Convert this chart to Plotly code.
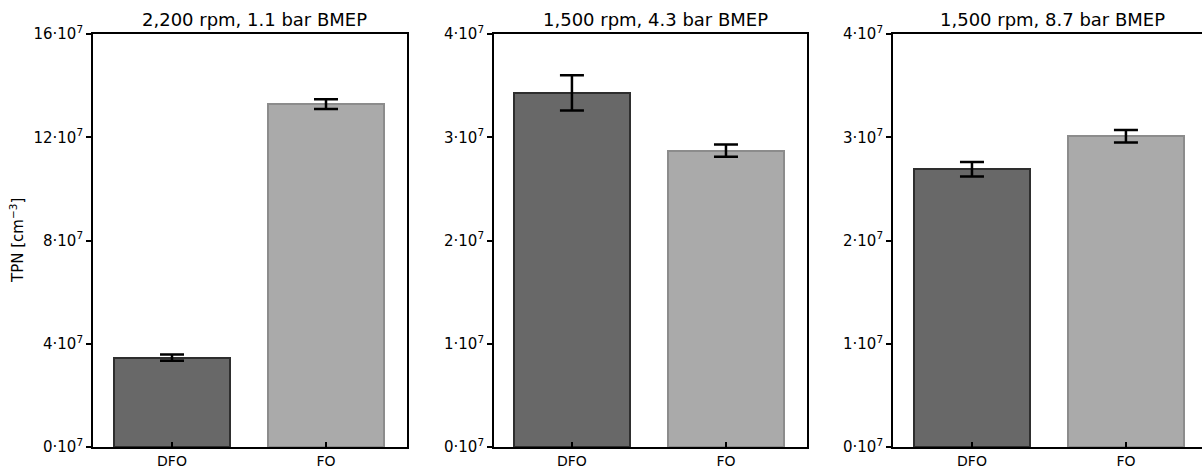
import plotly.graph_objects as go

categories = ["DFO", "FO"]
titles = ["2,200 rpm, 1.1 bar BMEP", "1,500 rpm, 4.3 bar BMEP", "1,500 rpm, 8.7 bar BMEP"]
values_p1 = [3.46e7, 13.28e7]
errors_p1 = [0.12e7, 0.19e7]
values_p2 = [3.43e7, 2.87e7]
errors_p2 = [0.17e7, 0.06e7]
values_p3 = [2.69e7, 3.01e7]
errors_p3 = [0.07e7, 0.06e7]
ytick_vals_p1 = [0, 4e7, 8e7, 12e7, 16e7]
ytick_text_p1 = ["0·10<sup>7</sup>", "4·10<sup>7</sup>", "8·10<sup>7</sup>", "12·10<sup>7</sup>", "16·10<sup>7</sup>"]
ytick_vals_p23 = [0, 1e7, 2e7, 3e7, 4e7]
ytick_text_p23 = ["0·10<sup>7</sup>", "1·10<sup>7</sup>", "2·10<sup>7</sup>", "3·10<sup>7</sup>", "4·10<sup>7</sup>"]
y_title = "TPN [cm<sup>−3</sup>]"

W, H = 1202, 468
font = "DejaVu Sans"
fill_colors = ["#686868", "#aaaaaa"]
edge_colors = ["#2e2e2e", "#8c8c8c"]

panels = [
    (values_p1, errors_p1, [93, 407], [-0.513, 1.526], [0, 16e7], ytick_vals_p1, ytick_text_p1),
    (values_p2, errors_p2, [494, 807], [-0.506, 1.526], [0, 4e7], ytick_vals_p23, ytick_text_p23),
    (values_p3, errors_p3, [893, 1202], [-0.513, 1.494], [0, 4e7], ytick_vals_p23, ytick_text_p23),
]

fig = go.Figure()
y_top, y_bot = 34, 447
ydom = [1 - y_bot / H, 1 - y_top / H]

for i, (vals, errs, xpx, xr, yr, tv, tt) in enumerate(panels):
    n = "" if i == 0 else str(i + 1)
    fig.add_trace(go.Bar(
        x=[0, 1], y=vals,
        width=0.75,
        marker=dict(color=fill_colors, line=dict(color=edge_colors, width=2)),
        error_y=dict(type="data", array=errs, visible=True, color="black", thickness=2.5, width=12),
        xaxis="x" + n, yaxis="y" + n, showlegend=False, hoverinfo="skip",
    ))
    dom = [xpx[0] / W, min(xpx[1] / W, 1.0)]
    fig.layout["xaxis" + n] = dict(
        domain=dom, range=xr, anchor="y" + n, automargin=False,
        tickvals=[0, 1], ticktext=categories,
        ticks="inside", ticklen=5, tickwidth=1.5, tickcolor="black",
        showline=True, linecolor="black", linewidth=1.8, mirror=True,
        showgrid=False, zeroline=False,
        tickfont=dict(family=font, size=14, color="black"),
    )
    fig.layout["yaxis" + n] = dict(
        domain=ydom, range=yr, anchor="x" + n, automargin=False,
        tickvals=tv, ticktext=tt,
        ticks="outside", ticklen=5, tickwidth=1.5, tickcolor="black",
        showline=True, linecolor="black", linewidth=1.8, mirror=True,
        showgrid=False, zeroline=False,
        tickfont=dict(family=font, size=15, color="black"),
    )
    fig.add_annotation(
        x=(xpx[0] + min(xpx[1], 1207)) / 2 / W + 0.004, y=1 - 20 / H,
        xref="paper", yref="paper", text=titles[i], showarrow=False,
        xanchor="center", yanchor="middle",
        font=dict(family=font, size=18, color="black"),
    )

fig.add_annotation(
    x=17 / W, y=1 - 241 / H, xref="paper", yref="paper", text=y_title,
    textangle=-90, showarrow=False, xanchor="center", yanchor="middle",
    font=dict(family=font, size=15, color="black"),
)

fig.update_layout(
    width=W, height=H,
    margin=dict(l=0, r=0, t=0, b=0, pad=0, autoexpand=False),
    paper_bgcolor="white", plot_bgcolor="white",
    bargap=0,
)

fig.write_html(
    "out.html",
    config={"displayModeBar": False},
    post_script="document.body.style.margin='0px';document.body.style.overflow='hidden';",
)
